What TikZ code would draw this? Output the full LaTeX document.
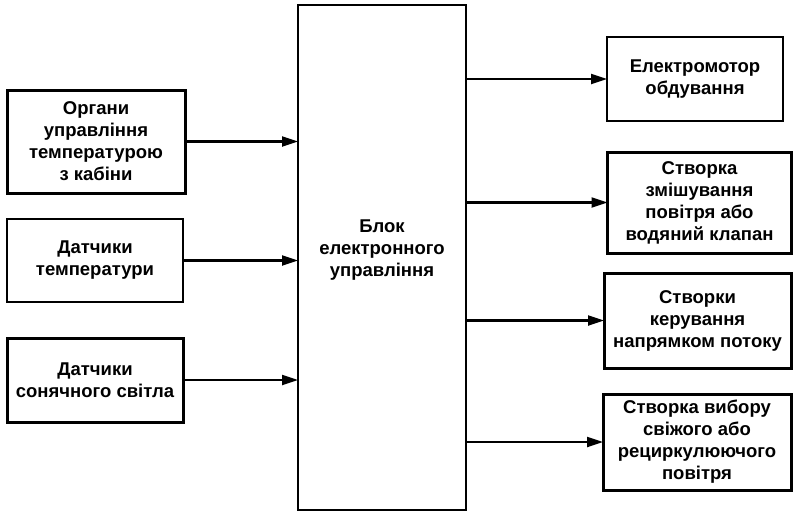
\documentclass[tikz,border=0pt]{standalone}
\usepackage{fontspec}
\setmainfont{Liberation Sans}
\usetikzlibrary{arrows.meta}
\tikzset{
  blk/.style={draw=black, rectangle, inner sep=0pt, outer sep=0pt, align=center,
    font=\fontsize{18.5}{22}\selectfont\bfseries},
  thick box/.style={blk, line width=3pt},
  thin box/.style={blk, line width=2.2pt},
  arr/.style={line width=2.2pt, -{Triangle[length=16pt,width=10pt]}},
}
\begin{document}
\begin{tikzpicture}[x=1pt,y=-1pt]
\useasboundingbox (0,0) rectangle (794,512);
% left
\node[thick box, minimum width=178pt, minimum height=103pt] (l1) at (96,141.5)
  {Органи\\управління\\температурою\\з кабіни};
\node[thin box, minimum width=176pt, minimum height=83pt] (l2) at (95,260.5)
  {Датчики\\температури};
\node[thick box, minimum width=176pt, minimum height=84pt] (l3) at (95,380)
  {Датчики\\сонячного світла};
% center
\node[thin box, minimum width=168pt, minimum height=505pt] (ecu) at (382,257.5) {};
\node[blk, draw=none] (ecut) at (382,250) {Блок\\електронного\\управління};
% right
\node[thin box, minimum width=176pt, minimum height=84pt] (r1) at (695,79)
  {Електромотор\\обдування};
\node[thick box, minimum width=184pt, minimum height=101pt] (r2) at (699.5,202.5)
  {Створка\\змішування\\повітря або\\водяний клапан};
\node[thick box, minimum width=187pt, minimum height=95pt] (r3) at (697.5,320.5)
  {Створки\\керування\\напрямком потоку};
\node[thick box, minimum width=188pt, minimum height=96pt] (r4) at (697,442)
  {Створка вибору\\свіжого або\\рециркулюючого\\повітря};
% arrows
\draw[arr] (l1.east) -- (l1.east -| ecu.west);
\draw[arr] (l2.east) -- (l2.east -| ecu.west);
\draw[arr] (l3.east) -- (l3.east -| ecu.west);
\draw[arr] (r1.west -| ecu.east) -- (r1.west);
\draw[arr] (r2.west -| ecu.east) -- (r2.west);
\draw[arr] (r3.west -| ecu.east) -- (r3.west);
\draw[arr] (r4.west -| ecu.east) -- (r4.west);
\end{tikzpicture}
\end{document}
